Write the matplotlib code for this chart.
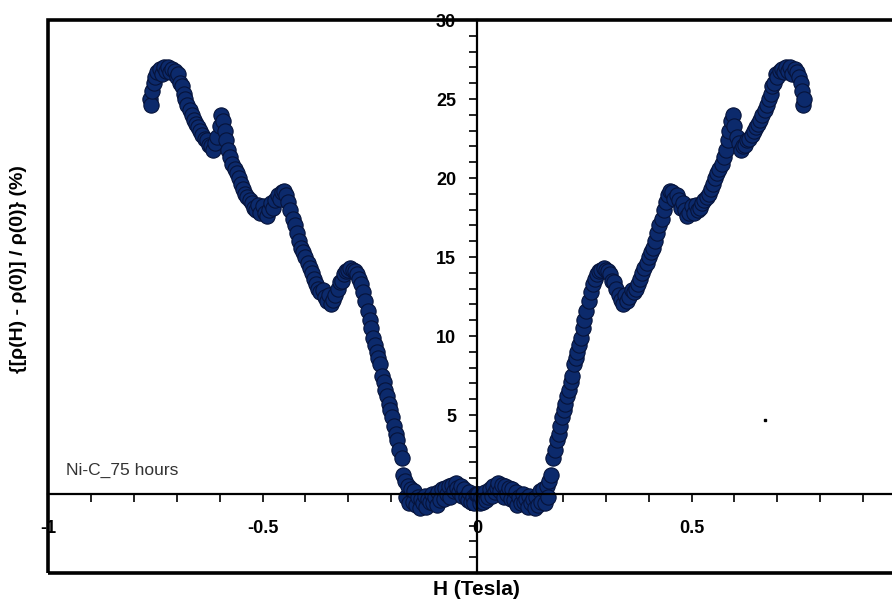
import numpy as np
import matplotlib
matplotlib.use("Agg")
import matplotlib.pyplot as plt
from matplotlib.patches import Rectangle
from matplotlib.ticker import MultipleLocator

# magnetoresistance, negative-field half; the curve is symmetric in H
h_neg = [-0.763, -0.760, -0.757, -0.754, -0.750, -0.745, -0.740, -0.735, -0.730, -0.725,
         -0.720, -0.715, -0.710, -0.705, -0.700, -0.696, -0.692, -0.688, -0.684, -0.680,
         -0.675, -0.670, -0.665, -0.660, -0.655, -0.650, -0.645, -0.640, -0.635, -0.630,
         -0.625, -0.620, -0.615, -0.610, -0.605, -0.600, -0.596, -0.592, -0.588, -0.584,
         -0.580, -0.575, -0.570, -0.565, -0.560, -0.555, -0.550, -0.545, -0.540, -0.535,
         -0.530, -0.525, -0.520, -0.515, -0.510, -0.505, -0.500, -0.495, -0.490, -0.485,
         -0.480, -0.475, -0.470, -0.465, -0.460, -0.455, -0.450, -0.445, -0.440, -0.435,
         -0.430, -0.425, -0.420, -0.415, -0.410, -0.405, -0.400, -0.395, -0.390, -0.385,
         -0.380, -0.375, -0.370, -0.365, -0.360, -0.355, -0.350, -0.345, -0.340, -0.335,
         -0.330, -0.325, -0.320, -0.315, -0.310, -0.305, -0.300, -0.295, -0.290, -0.285,
         -0.280, -0.275, -0.270, -0.265, -0.260, -0.255, -0.250, -0.246, -0.242, -0.238,
         -0.234, -0.230, -0.226, -0.222, -0.218, -0.214, -0.210, -0.206, -0.202, -0.198,
         -0.194, -0.190, -0.186, -0.181, -0.176, -0.172, -0.168, -0.165, -0.162, -0.158,
         -0.154, -0.150, -0.146, -0.142, -0.138, -0.134, -0.130, -0.126, -0.122, -0.118,
         -0.114, -0.110, -0.106, -0.102, -0.098, -0.094, -0.090, -0.086, -0.082, -0.078,
         -0.074, -0.070, -0.066, -0.062, -0.058, -0.054, -0.050, -0.046, -0.042, -0.038,
         -0.034, -0.030, -0.026, -0.022, -0.018, -0.014, -0.010, -0.006, -0.002]
mr_neg = [25.0, 24.6, 25.5, 26.0, 26.4, 26.7, 26.9, 26.6, 27.0, 26.8,
          27.0, 26.7, 26.9, 26.8, 26.4, 26.6, 26.0, 25.8, 25.3, 25.0,
          24.6, 24.3, 24.0, 23.7, 23.4, 23.2, 23.0, 22.7, 22.5, 22.4,
          22.1, 22.0, 21.8, 22.2, 22.6, 23.3, 24.0, 23.6, 23.0, 22.4,
          21.8, 21.3, 20.9, 20.6, 20.3, 20.0, 19.6, 19.3, 19.0, 18.8,
          18.6, 18.4, 18.1, 18.0, 18.3, 17.8, 18.2, 17.8, 17.6, 18.0,
          18.4, 18.1, 18.6, 18.9, 18.7, 19.1, 19.2, 18.9, 18.5, 18.0,
          17.4, 17.0, 16.5, 16.0, 15.6, 15.3, 15.0, 14.6, 14.3, 14.0,
          13.6, 13.3, 13.0, 12.8, 12.9, 12.5, 12.2, 12.6, 12.0, 12.3,
          12.6, 13.0, 13.4, 13.5, 13.9, 14.1, 14.2, 14.3, 14.2, 14.1,
          13.9, 13.6, 13.3, 12.8, 12.2, 11.6, 11.0, 10.5, 9.9, 9.4,
          9.0, 8.6, 8.2, 7.5, 7.1, 6.6, 6.2, 5.7, 5.3, 4.9,
          4.3, 3.8, 3.4, 2.8, 2.3, 1.2, 0.8, -0.2, 0.5, -0.6,
          0.3, -0.5, 0.2, -0.7, -0.2, -0.9, -0.3, -0.6, -0.1, -0.8,
          -0.3, -0.5, 0.0, -0.6, -0.2, -0.7, 0.1, -0.4, 0.3, -0.3,
          0.4, 0.0, 0.5, -0.2, 0.6, 0.2, 0.7, 0.4, 0.1, 0.5,
          -0.1, 0.3, -0.2, -0.4, 0.1, -0.5, -0.2, -0.6, 0.0]
h_zero = [0.0]
mr_zero = [0.0]

# stray dot on the original figure
stray_h = [0.672]
stray_mr = [4.7]

# the "1" label falls outside the visible area in the original
x_ticks = [-1, -0.5, 0, 0.5, 1]
x_tick_labels = ["-1", "-0.5", "0", "0.5", ""]
y_ticks = [0, 5, 10, 15, 20, 25, 30]
y_tick_labels = ["0", "5", "10", "15", "20", "25", "30"]

h = np.concatenate([h_neg, h_zero, -np.array(h_neg[::-1])])
mr = np.concatenate([mr_neg, mr_zero, mr_neg[::-1]])

plt.rcParams["font.family"] = ["Liberation Sans", "DejaVu Sans"]

fig = plt.figure(figsize=(8.92, 6.07), dpi=100)
ax = fig.add_axes([0.0538, 0.056, 0.962, 0.911])

ax.plot(h, mr, linestyle="none", marker="o", markersize=11,
        markerfacecolor="#0c2a6c", markeredgecolor="#06133a", markeredgewidth=0.8)
ax.plot(stray_h, stray_mr, linestyle="none", marker="s", markersize=1.8, color="black")

ax.set_xlim(-1, 1)
ax.set_ylim(-5, 30)

# axes crossing at the origin
for side in ["top", "right"]:
    ax.spines[side].set_visible(False)
ax.spines["left"].set_position(("data", 0))
ax.spines["bottom"].set_position(("data", 0))
ax.spines["left"].set_linewidth(1.6)
ax.spines["bottom"].set_linewidth(1.6)

ax.set_xticks(x_ticks)
ax.set_xticklabels(x_tick_labels)
ax.set_yticks(y_ticks)
ax.set_yticklabels(y_tick_labels)
ax.xaxis.set_minor_locator(MultipleLocator(0.1))
ax.yaxis.set_minor_locator(MultipleLocator(1))
ax.tick_params(axis="x", which="both", direction="out", length=6, width=1.2, pad=13)
ax.tick_params(axis="y", which="both", direction="out", length=6, width=1.2, pad=9)
for lab in ax.get_xticklabels() + ax.get_yticklabels():
    lab.set_fontweight("bold")
    lab.set_fontsize(13)

# outer frame
ax.add_patch(Rectangle((0, 0), 1, 1, transform=ax.transAxes, fill=False,
                       linewidth=2.6, edgecolor="black", clip_on=False, zorder=5))

ax.set_xlabel("H (Tesla)", fontsize=15, fontweight="bold")
ax.xaxis.set_label_coords(0.499, -0.013)
ax.set_ylabel("{[ρ(H) - ρ(0)] / ρ(0)} (%)", fontsize=14, fontweight="bold")
ax.yaxis.set_label_coords(-0.025, 0.55)

ax.text(-0.958, 1.5, "Ni-C_75 hours", fontsize=12.5, color="#333333", va="center")

fig.savefig("out.png", dpi=100)
